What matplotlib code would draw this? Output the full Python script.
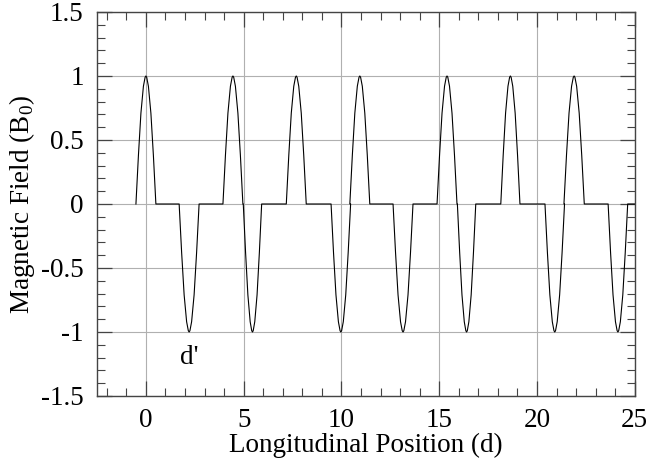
import numpy as np
import matplotlib
matplotlib.use("Agg")
import matplotlib.pyplot as plt
from matplotlib.ticker import MultipleLocator

# lobe centres (d), signs and half widths
lobe_centre = [0.0, 2.21, 4.45, 5.45, 7.69, 9.97, 10.94, 13.15, 15.40, 16.40, 18.64, 20.91, 21.90, 24.14]
lobe_sign = [1, -1, 1, -1, 1, -1, 1, -1, 1, -1, 1, -1, 1, -1]
lobe_half = [0.51, 0.51, 0.51, 0.47, 0.51, 0.5, 0.51, 0.51, 0.51, 0.47, 0.49, 0.5, 0.52, 0.5]

# shape of one lobe (relative position, relative field)
profile_u = [-1.0, -0.75, -0.5, -0.25, -0.08, 0.0, 0.08, 0.25, 0.5, 0.75, 1.0]
profile_v = [0.0, 0.38, 0.71, 0.92, 0.99, 1.0, 0.99, 0.92, 0.71, 0.38, 0.0]

x_end = 25.0

plt.rcParams['font.family'] = ['Liberation Serif', 'DejaVu Serif']
plt.rcParams['mathtext.fontset'] = 'custom'
plt.rcParams['mathtext.rm'] = 'Liberation Serif'

xs, ys = [], []
for c, s, h in zip(lobe_centre, lobe_sign, lobe_half):
    for u, v in zip(profile_u, profile_v):
        xs.append(c + u * h)
        ys.append(s * v)
xs.append(x_end)
ys.append(0.0)

fig = plt.figure(figsize=(6.49, 4.61), dpi=100)
ax = fig.add_axes([0.1495, 0.141, 0.8285, 0.833])

ax.grid(True, which='major', color='#b0b0b0', lw=0.8)
ax.plot(xs, ys, color='black', lw=0.8)

ax.set_xlim(-2.5, 25)
ax.set_ylim(-1.5, 1.5)
ax.xaxis.set_major_locator(MultipleLocator(5))
ax.xaxis.set_minor_locator(MultipleLocator(1))
ax.yaxis.set_minor_locator(MultipleLocator(0.1))
ax.set_yticks([-1.5, -1, -0.5, 0, 0.5, 1, 1.5])
ax.set_yticklabels(['-1.5', '-1', '-0.5', '0', '0.5', '1', '1.5'])
ax.tick_params(which='both', direction='in', top=True, right=True,
               labelsize=19.5, color='#444444')
ax.tick_params(which='major', length=11, width=0.9, pad=9.5)
ax.tick_params(axis='x', which='major', pad=8.5)
ax.tick_params(which='minor', length=5.5, width=0.8)
for sp in ax.spines.values():
    sp.set_color('#444444')
    sp.set_linewidth(1.0)

ax.set_xlabel('Longitudinal Position (d)', fontsize=19.5, labelpad=0)
ax.set_ylabel(r'Magnetic Field (B$_\mathrm{0}$)', fontsize=19.5, labelpad=3)
ax.text(2.2, -1.2, "d'", fontsize=19.5, ha='center', va='center')

fig.savefig('out.png', dpi=100)
